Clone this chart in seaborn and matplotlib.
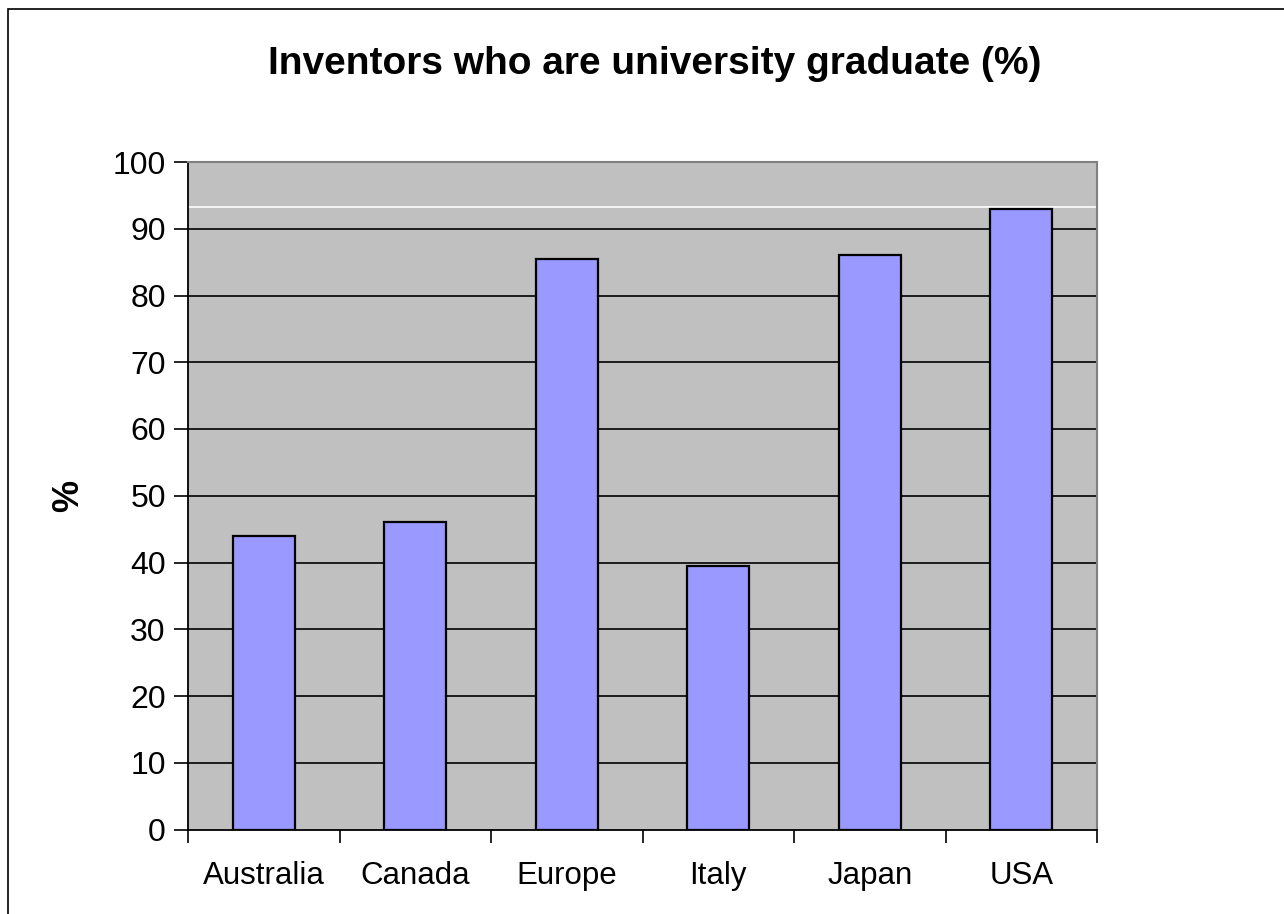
import matplotlib
matplotlib.use('Agg')
import matplotlib.pyplot as plt
from matplotlib.patches import Rectangle
from matplotlib.ticker import FixedLocator
import seaborn as sns
import pandas as pd

# Data
countries = ['Australia', 'Canada', 'Europe', 'Italy', 'Japan', 'USA']
graduates_pct = [43.9, 46.0, 85.4, 39.5, 86.1, 93.0]
white_line = 93.3  # stray white line across the plot area
y_ticks = list(range(0, 101, 10))

df = pd.DataFrame({'country': countries, 'pct': graduates_pct})

sns.set_theme(style='white')
plt.rcParams['font.family'] = ['Liberation Sans', 'DejaVu Sans']
plt.rcParams['text.color'] = 'black'
plt.rcParams['axes.labelcolor'] = 'black'
plt.rcParams['xtick.color'] = 'black'
plt.rcParams['ytick.color'] = 'black'

fig = plt.figure(figsize=(12.84, 9.14), dpi=100)
ax = fig.add_axes([188 / 1284, 84.5 / 914, 909 / 1284, 667.5 / 914])
ax.set_facecolor('#C0C0C0')

# gridlines behind bars
for v in y_ticks[1:-1]:
    ax.axhline(v, color='black', lw=1.2, zorder=0)
ax.axhline(white_line, color='white', lw=1.2, zorder=0)

sns.barplot(data=df, x='country', y='pct', color='#9999FF', saturation=1,
            edgecolor='black', linewidth=1.6, width=0.41, ax=ax, zorder=2)

ax.set_xlim(-0.5, len(countries) - 0.5)
ax.set_ylim(0, 100)
ax.set_yticks(y_ticks)
ax.set_xlabel('')
ax.set_ylabel('%', fontsize=26, fontweight='bold')
ax.yaxis.set_label_coords(-0.112, 0.5)
ax.set_title('Inventors who are university graduate (%)', fontsize=28,
             fontweight='bold', pad=63, x=0.513)

ax.xaxis.set_minor_locator(FixedLocator([i - 0.5 for i in range(len(countries) + 1)]))
ax.tick_params(axis='x', which='major', length=0, pad=23, labelsize=22.5)
ax.tick_params(axis='x', which='minor', length=9, width=1.2, color='black',
               direction='out', bottom=True)
ax.tick_params(axis='y', length=10, width=1.2, color='black', direction='out',
               left=True, pad=6, labelsize=23)

for side in ['left', 'bottom']:
    ax.spines[side].set_color('black')
    ax.spines[side].set_linewidth(1.3)
for side in ['top', 'right']:
    ax.spines[side].set_color('#808080')
    ax.spines[side].set_linewidth(1.5)

# chart area border
fig.add_artist(Rectangle((8 / 1284, -0.1), 1.1, 0.1 + 905 / 914,
                         transform=fig.transFigure, fill=False,
                         edgecolor='black', lw=1.2))

fig.savefig('out.png', dpi=100)
